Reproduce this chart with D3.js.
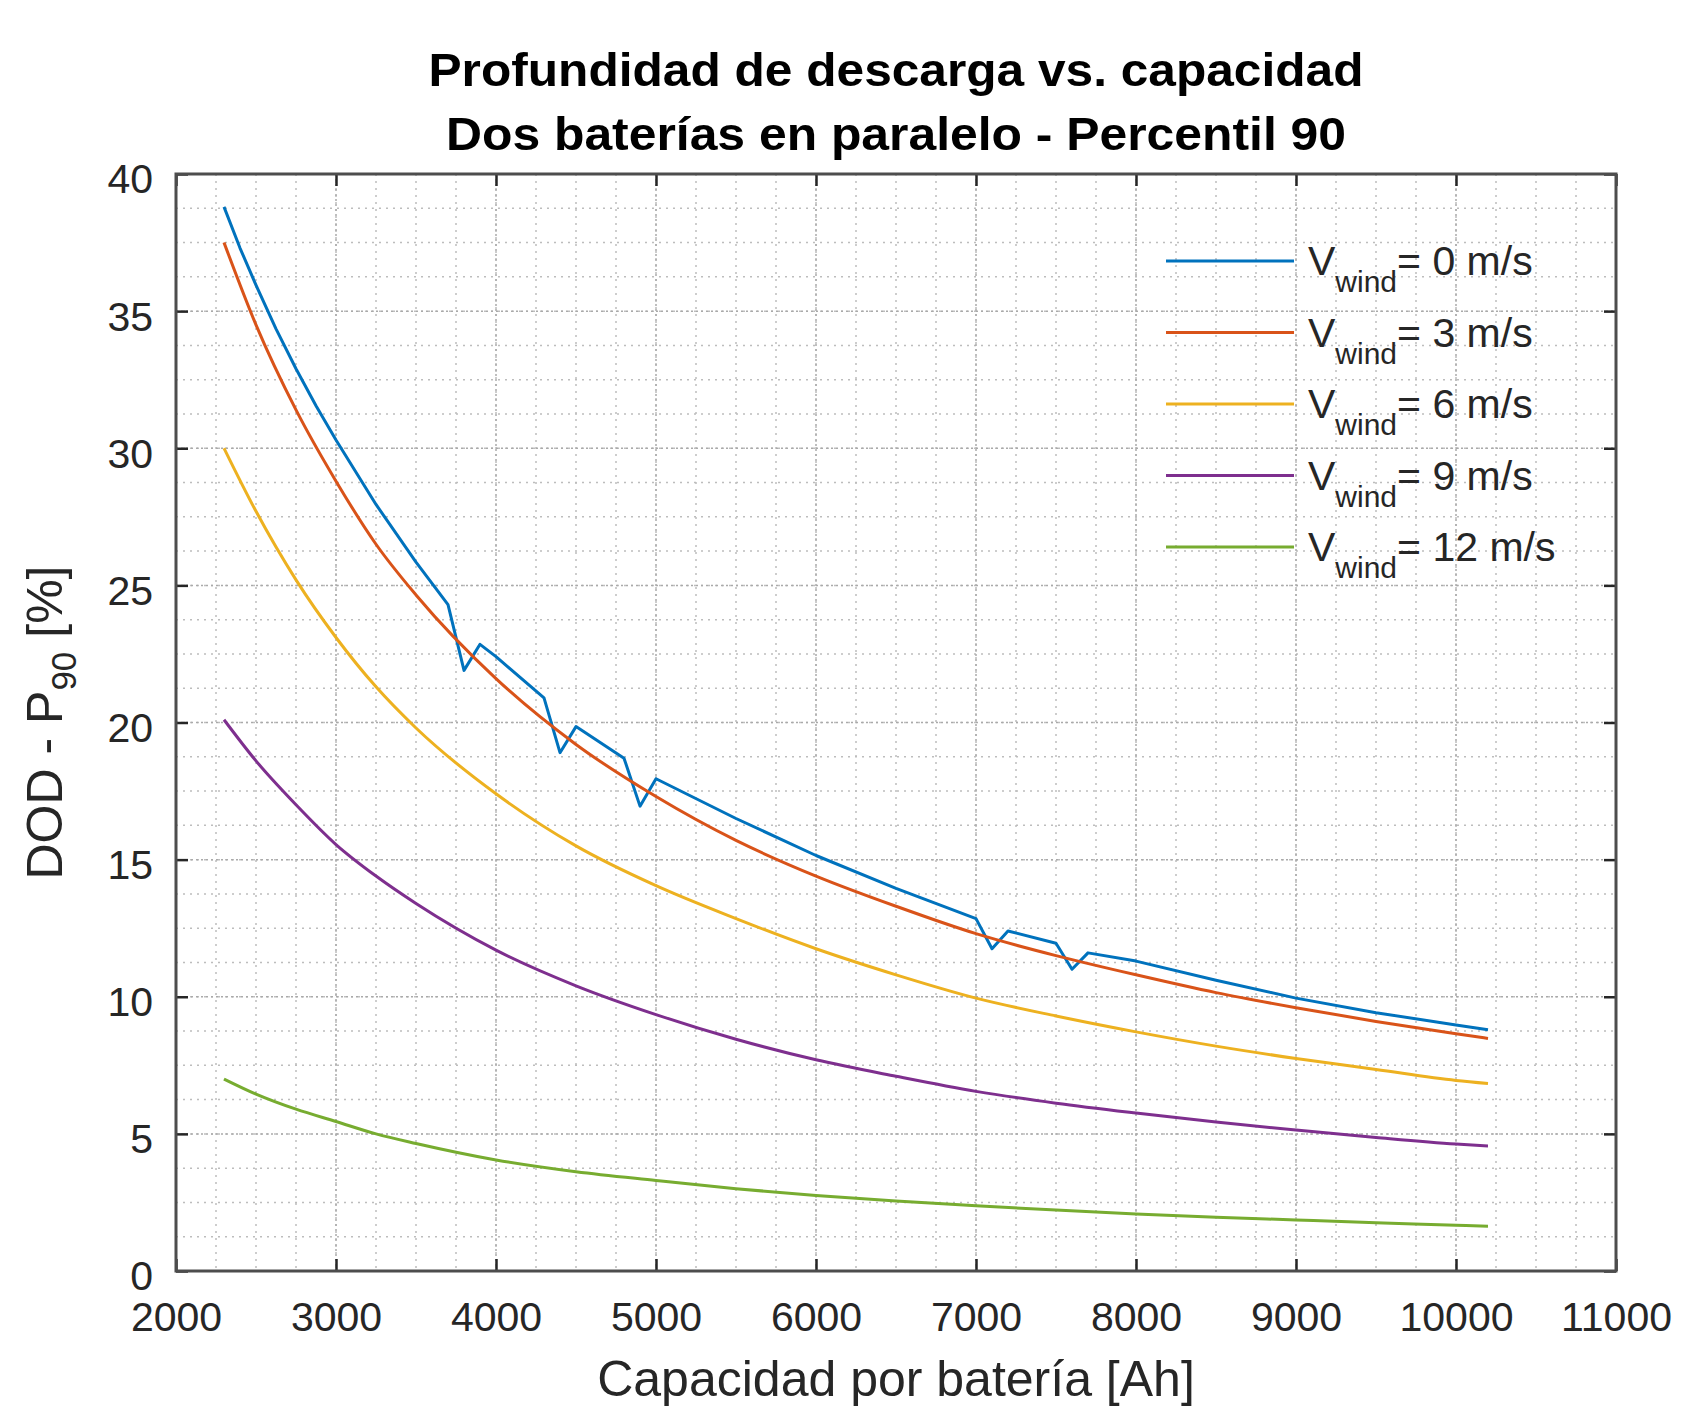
<!DOCTYPE html>
<html>
<head>
<meta charset="utf-8">
<script src="https://cdn.jsdelivr.net/npm/d3@7"></script>
<style>
    body { margin: 0; background: #fff; }
    text { font-family: "Liberation Sans", Arial, Helvetica, sans-serif; }
</style>
</head>
<body>
<svg></svg>
<script>
// capacity per battery [Ah] for the smooth curves
var capacity = [2300, 2500, 2750, 3000, 3250, 3500, 4000, 4500, 5000, 5500, 6000, 6500, 7000, 7500, 8000, 8500, 9000, 9500, 10000, 10200];

// DOD P90 [%] for each wind speed
var dod3  = [37.5, 34.5, 31.4, 28.8, 26.5, 24.65, 21.6, 19.2, 17.3, 15.7, 14.4, 13.3, 12.3, 11.5, 10.8, 10.15, 9.6, 9.1, 8.65, 8.48];
var dod6  = [30.0, 27.7, 25.2, 23.1, 21.3, 19.8, 17.4, 15.5, 14.05, 12.85, 11.75, 10.8, 9.95, 9.3, 8.72, 8.2, 7.75, 7.35, 6.95, 6.84];
var dod9  = [20.1, 18.6, 17.0, 15.55, 14.4, 13.4, 11.7, 10.4, 9.35, 8.45, 7.7, 7.1, 6.55, 6.12, 5.76, 5.43, 5.14, 4.87, 4.63, 4.56];
var dod12 = [7.0, 6.45, 5.9, 5.45, 5.0, 4.65, 4.05, 3.62, 3.3, 3.0, 2.75, 2.55, 2.38, 2.22, 2.08, 1.96, 1.86, 1.76, 1.67, 1.63];

// the 0 m/s curve has notches, so it has its own capacity list
var capacity0 = [2300, 2400, 2500, 2625, 2750, 2875, 3000, 3250, 3500, 3700, 3800, 3900, 4000, 4300, 4400, 4500, 4800, 4900, 5000, 5500, 6000, 6500, 7000, 7100, 7200, 7500, 7600, 7700, 8000, 8500, 9000, 9500, 10000, 10200];
var dod0      = [38.8, 37.3, 35.95, 34.35, 32.9, 31.55, 30.3, 27.95, 25.85, 24.3, 21.9, 22.85, 22.4, 20.9, 18.9, 19.85, 18.7, 16.95, 17.95, 16.5, 15.15, 13.95, 12.85, 11.75, 12.4, 11.95, 11.0, 11.6, 11.3, 10.6, 9.95, 9.42, 8.97, 8.8];

var windSpeeds = ['0', '3', '6', '9', '12'];
var colors = ['#0072BD', '#D95319', '#EDB120', '#7E2F8E', '#77AC30'];

var width = 1681, height = 1409;
var plotLeft = 176, plotRight = 1616, plotTop = 174, plotBottom = 1271;

var series = [
    { wind: windSpeeds[0], xs: capacity0, ys: dod0, curve: d3.curveLinear },
    { wind: windSpeeds[1], xs: capacity, ys: dod3, curve: d3.curveMonotoneX },
    { wind: windSpeeds[2], xs: capacity, ys: dod6, curve: d3.curveMonotoneX },
    { wind: windSpeeds[3], xs: capacity, ys: dod9, curve: d3.curveMonotoneX },
    { wind: windSpeeds[4], xs: capacity, ys: dod12, curve: d3.curveMonotoneX }
];

var svg = d3.select('svg')
    .attr('width', width)
    .attr('height', height);

var x = d3.scaleLinear().domain([2000, 11000]).range([plotLeft, plotRight]);
var y = d3.scaleLinear().domain([0, 40]).range([plotBottom, plotTop]);

// minor grid (4 subdivisions)
var xMinor = d3.range(2000, 11000, 250);
var yMinor = d3.range(0, 40, 1.25);

var grid = svg.append('g');
grid.selectAll('.vminor')
    .data(xMinor)
    .enter().append('line')
    .attr('x1', function (d) { return x(d) }).attr('x2', function (d) { return x(d) })
    .attr('y1', plotTop).attr('y2', plotBottom)
    .style('stroke', '#bdbdbd').style('stroke-width', 1.5).style('stroke-dasharray', '2,5');
grid.selectAll('.hminor')
    .data(yMinor)
    .enter().append('line')
    .attr('y1', function (d) { return y(d) }).attr('y2', function (d) { return y(d) })
    .attr('x1', plotLeft).attr('x2', plotRight)
    .style('stroke', '#bdbdbd').style('stroke-width', 1.5).style('stroke-dasharray', '2,5');

// major grid
grid.selectAll('.vmajor')
    .data(x.ticks(9))
    .enter().append('line')
    .attr('x1', function (d) { return x(d) }).attr('x2', function (d) { return x(d) })
    .attr('y1', plotTop).attr('y2', plotBottom)
    .style('stroke', '#aaaaaa').style('stroke-width', 1.5).style('stroke-dasharray', '2,3');
grid.selectAll('.hmajor')
    .data(y.ticks(8))
    .enter().append('line')
    .attr('y1', function (d) { return y(d) }).attr('y2', function (d) { return y(d) })
    .attr('x1', plotLeft).attr('x2', plotRight)
    .style('stroke', '#aaaaaa').style('stroke-width', 1.5).style('stroke-dasharray', '2,3');

// curves
svg.append('g').selectAll('path')
    .data(series)
    .enter().append('path')
    .attr('d', function (s) {
        return d3.line()
            .x(function (d) { return x(d[0]) })
            .y(function (d) { return y(d[1]) })
            .curve(s.curve)(d3.zip(s.xs, s.ys));
    })
    .style('fill', 'none')
    .style('stroke', function (s, i) { return colors[i] })
    .style('stroke-width', 3)
    .style('stroke-linejoin', 'round');

// axes, ticks pointing inward
var styleAxis = function (g) {
    g.select('.domain').remove();
    g.selectAll('line').style('stroke', '#262626').style('stroke-width', 2.5);
    g.selectAll('text').style('font-size', '41px').style('fill', '#262626')
        .style('font-family', '"Liberation Sans", Arial, sans-serif');
};

svg.append('g')
    .attr('transform', 'translate(0,' + plotBottom + ')')
    .call(d3.axisBottom(x).ticks(9).tickFormat(d3.format('d')).tickSizeInner(-12).tickSizeOuter(0).tickPadding(31))
    .call(styleAxis);
svg.append('g')
    .attr('transform', 'translate(0,' + plotTop + ')')
    .call(d3.axisTop(x).ticks(9).tickFormat('').tickSizeInner(-12).tickSizeOuter(0))
    .call(styleAxis);
svg.append('g')
    .attr('transform', 'translate(' + plotLeft + ',0)')
    .call(d3.axisLeft(y).ticks(8).tickSizeInner(-12).tickSizeOuter(0).tickPadding(23))
    .call(styleAxis)
    .selectAll('text').attr('dy', '0.46em');
svg.append('g')
    .attr('transform', 'translate(' + plotRight + ',0)')
    .call(d3.axisRight(y).ticks(8).tickFormat('').tickSizeInner(-12).tickSizeOuter(0))
    .call(styleAxis);

// box
svg.append('rect')
    .attr('x', plotLeft).attr('y', plotTop)
    .attr('width', plotRight - plotLeft).attr('height', plotBottom - plotTop)
    .style('fill', 'none')
    .style('stroke', '#4d4d4d')
    .style('stroke-width', 3);

// title
var cx = (plotLeft + plotRight) / 2;
svg.append('text')
    .text('Profundidad de descarga vs. capacidad')
    .attr('x', cx).attr('y', 86)
    .attr('text-anchor', 'middle')
    .attr('textLength', 935).attr('lengthAdjust', 'spacingAndGlyphs')
    .style('font-size', '47px').style('font-weight', 'bold').style('fill', '#000');
svg.append('text')
    .text('Dos baterías en paralelo - Percentil 90')
    .attr('x', cx).attr('y', 150)
    .attr('text-anchor', 'middle')
    .attr('textLength', 900).attr('lengthAdjust', 'spacingAndGlyphs')
    .style('font-size', '47px').style('font-weight', 'bold').style('fill', '#000');

// x label
svg.append('text')
    .text('Capacidad por batería [Ah]')
    .attr('x', cx).attr('y', 1396)
    .attr('text-anchor', 'middle')
    .style('font-size', '50px').style('fill', '#262626');

// y label with subscript
var yl = svg.append('text')
    .attr('transform', 'translate(62,' + (plotTop + plotBottom) / 2 + ') rotate(-90)')
    .attr('text-anchor', 'middle')
    .style('font-size', '50px').style('fill', '#262626');
yl.append('tspan').text('DOD - P');
yl.append('tspan').text('90').attr('dy', 14).style('font-size', '35px');
yl.append('tspan').text(' [%]').attr('dy', -14);

// legend
var legendY = d3.scaleLinear().domain([0, 4]).range([261, 547]);
var legend = svg.append('g').selectAll('g')
    .data(series)
    .enter().append('g')
    .attr('transform', function (s, i) { return 'translate(0,' + legendY(i) + ')' });

legend.append('line')
    .attr('x1', 1166).attr('x2', 1294)
    .style('stroke', function (s, i) { return colors[i] })
    .style('stroke-width', 3);

var lt = legend.append('text')
    .attr('x', 1308).attr('y', 14)
    .style('font-size', '41px').style('fill', '#262626');
lt.append('tspan').text('V');
lt.append('tspan').text('wind').attr('dy', 17).style('font-size', '30px');
lt.append('tspan').text(function (s) { return '= ' + s.wind + ' m/s' }).attr('dy', -17);
</script>
</body>
</html>
